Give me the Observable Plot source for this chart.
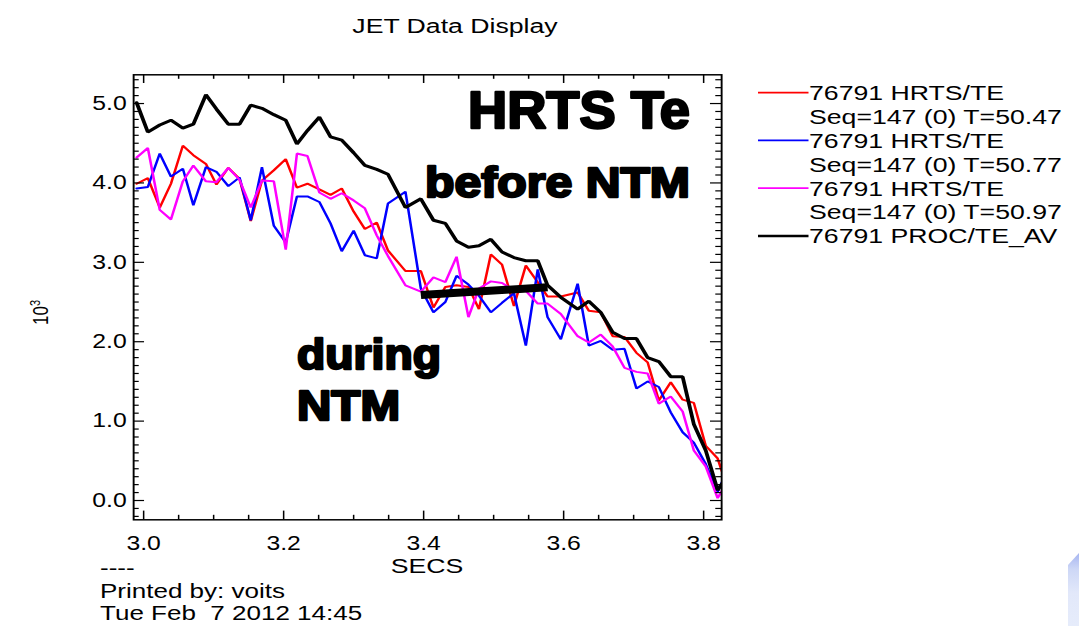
<!DOCTYPE html>
<html>
<head>
<meta charset="utf-8">
<script src="https://cdn.jsdelivr.net/npm/d3@7"></script>
<script src="https://cdn.jsdelivr.net/npm/@observablehq/plot@0.6"></script>
<style>
  html, body { margin: 0; padding: 0; background: #fff; }
  #page { position: relative; width: 1079px; height: 626px; overflow: hidden; background: #fff; }
  #chart { position: absolute; left: 0; top: 0; width: 850px; height: 626px; transform-origin: 0 0; }
  #chart svg { position: absolute; left: 0; top: 0; }
  #notes { position: absolute; left: 0; top: 0; pointer-events: none; }
  #corner {
    position: absolute; left: 1068px; top: 553px; width: 11px; height: 73px;
    background: linear-gradient(180deg, #a6b5f1 0px, #cdd7f6 16px, #e2e8fa 40px, #e6ecfb 73px);
    clip-path: polygon(0 12px, 100% 0, 100% 100%, 0 100%);
  }
</style>
</head>
<body>
<div id="page">
  <div id="chart"></div>
  <div id="corner"></div>
</div>
<script>
// HRTS radial channels (axis labelled SECS)
const secs = [
  2.990, 3.006, 3.023, 3.039, 3.056, 3.071, 3.089, 3.104, 3.121, 3.137,
  3.153, 3.169, 3.186, 3.203, 3.219, 3.234, 3.251, 3.267, 3.283, 3.300,
  3.316, 3.333, 3.349, 3.374, 3.396, 3.414, 3.431, 3.447, 3.464, 3.479,
  3.496, 3.512, 3.529, 3.546, 3.563, 3.577, 3.596, 3.620, 3.636, 3.653,
  3.670, 3.687, 3.704, 3.720, 3.736, 3.753, 3.770, 3.786, 3.803, 3.820,
  3.826
];

// Te in units of 10^3 eV
const teT5047 = [
  3.99, 4.06, 3.69, 3.99, 4.47, 4.35, 4.24, 3.98, 4.19, 4.05,
  3.52, 4.03, 4.16, 4.30, 3.94, 3.99, 3.92, 3.85, 3.93, 3.64,
  3.42, 3.50, 3.15, 2.89, 2.89, 2.43, 2.69, 2.71, 2.69, 2.41,
  3.10, 2.97, 2.45, 2.96, 2.75, 2.57, 2.57, 2.62, 2.39, 2.37,
  2.07, 2.06, 1.86, 1.74, 1.26, 1.49, 1.27, 1.23, 0.69, 0.53,
  0.37
];
const teT5077 = [
  3.93, 3.95, 4.37, 4.08, 4.18, 3.72, 4.20, 4.14, 3.96, 4.07,
  3.53, 4.20, 3.46, 3.25, 3.83, 3.83, 3.76, 3.49, 3.14, 3.40,
  3.09, 3.05, 3.74, 3.89, 2.67, 2.37, 2.50, 2.83, 2.72, 2.58,
  2.37, 2.49, 2.61, 1.95, 2.91, 2.31, 2.03, 2.73, 1.95, 2.01,
  1.90, 1.91, 1.41, 1.50, 1.43, 1.11, 0.86, 0.73, 0.46, 0.11,
  0.23
];
const teT5097 = [
  4.32, 4.44, 3.66, 3.54, 4.02, 4.22, 4.02, 4.01, 4.19, 4.04,
  3.69, 4.03, 4.02, 3.16, 4.37, 4.34, 3.88, 3.80, 3.87, 3.78,
  3.68, 3.34, 3.08, 2.71, 2.63, 2.81, 2.75, 3.07, 2.31, 2.67,
  2.76, 2.74, 2.65, 2.64, 2.48, 2.48, 2.35, 2.07, 1.99, 2.09,
  1.94, 1.67, 1.62, 1.60, 1.22, 1.31, 1.12, 0.63, 0.43, 0.03,
  0.12
];
const teAvg = [
  5.01, 4.64, 4.73, 4.79, 4.69, 4.74, 5.11, 4.93, 4.74, 4.74,
  4.98, 4.94, 4.86, 4.79, 4.49, 4.66, 4.83, 4.58, 4.54, 4.38,
  4.22, 4.17, 4.11, 3.69, 3.80, 3.53, 3.49, 3.27, 3.19, 3.21,
  3.29, 3.13, 3.06, 3.02, 3.02, 2.71, 2.56, 2.41, 2.51, 2.37,
  2.12, 2.04, 2.04, 1.80, 1.75, 1.56, 1.56, 0.96, 0.63, 0.13,
  0.21
];

// Te plateau during the NTM
const ntmSecs = [3.396, 3.577];
const ntmTe = [2.588, 2.686];

// Legend
const seriesSignal = ["76791 HRTS/TE", "76791 HRTS/TE", "76791 HRTS/TE", "76791 PROC/TE_AV"];
const seriesSeq = ["Seq=147 (0) T=50.47", "Seq=147 (0) T=50.77", "Seq=147 (0) T=50.97", null];
const seriesColor = ["#ff0000", "#0000ff", "#ff00ff", "#000000"];
const seriesValues = [teT5047, teT5077, teT5097, teAvg];

// Axis ticks
const xMajor = [3.0, 3.2, 3.4, 3.6, 3.8];
const yMajor = [0, 1, 2, 3, 4, 5];

const titleText = "JET Data Display";
const xLabel = "SECS";
const footer = ["----", "Printed by: voits", "Tue Feb  7 2012 14:45"];

// ---------------------------------------------------------------------------
const FONT = "'Liberation Sans', Arial, Helvetica, sans-serif";
const W = 850, H = 626;
const sx = 1079 / W;                       // the whole display is widened horizontally
document.getElementById("chart").style.transform = `scaleX(${sx})`;

const frame = {left: 133 / sx, right: 721 / sx, top: 74.3, bottom: 519.3};
const fw = frame.right - frame.left, fh = frame.bottom - frame.top;

const near = (a, b) => Math.abs(a - b) < 1e-6;
const xMinor = d3.range(3.0, 3.8001, 0.05).filter(v => !xMajor.some(m => near(m, v)));
const yMinor = d3.range(-0.2, 5.3501, 0.1).filter(v => !yMajor.some(m => near(m, v)));

const MAJ = 8.7, MIN = 4.5;
const ticksX = (vals, len) => [
  Plot.tickX(vals, {x: d => d, insetTop: fh - len, stroke: "#000", strokeWidth: 1.2}),
  Plot.tickX(vals, {x: d => d, insetBottom: fh - len, stroke: "#000", strokeWidth: 1.2})
];
const ticksY = (vals, len) => [
  Plot.tickY(vals, {y: d => d, insetRight: fw - len, stroke: "#000", strokeWidth: 1.2}),
  Plot.tickY(vals, {y: d => d, insetLeft: fw - len, stroke: "#000", strokeWidth: 1.2})
];

const rows = vals => secs.map((t, i) => ({t, te: vals[i]}));
const ntmRows = ntmSecs.map((t, i) => ({t, te: ntmTe[i]}));

const chart = Plot.plot({
  width: W,
  height: H,
  marginLeft: frame.left,
  marginRight: W - frame.right,
  marginTop: frame.top,
  marginBottom: H - frame.bottom,
  x: {domain: [2.9857, 3.8257], label: null},
  y: {domain: [-0.243, 5.362], label: null},
  style: {fontFamily: FONT, color: "#000", background: "transparent", overflow: "visible"},
  marks: [
    ...seriesValues.map((vals, k) =>
      Plot.line(rows(vals), {
        x: "t", y: "te", stroke: seriesColor[k],
        strokeWidth: k === 3 ? 3 : 2, clip: true, strokeLinejoin: "miter"
      })
    ),
    Plot.line(ntmRows, {x: "t", y: "te", stroke: "#000", strokeWidth: 8, strokeLinecap: "butt"}),
    ...ticksX(xMajor, MAJ), ...ticksX(xMinor, MIN),
    ...ticksY(yMajor, MAJ), ...ticksY(yMinor, MIN),
    Plot.frame({stroke: "#000", strokeWidth: 1.5}),
    Plot.axisX({ticks: xMajor, tickSize: 0, tickPadding: 16, tickFormat: d3.format(".1f"),
                fontSize: 19.5, label: null}),
    Plot.axisY({ticks: yMajor, tickSize: 0, tickPadding: 5.5, tickFormat: d3.format(".1f"),
                fontSize: 19.5, label: null})
  ]
});
document.getElementById("chart").append(chart);

// Title, axis captions, legend and print stamp (same widened coordinate system)
const deco = d3.create("svg")
  .attr("width", W).attr("height", H)
  .style("font-family", FONT).style("overflow", "visible");

deco.append("text")
  .attr("x", 455 / sx).attr("y", 33).attr("text-anchor", "middle")
  .attr("font-size", 21).text(titleText);

const ylab = deco.append("text")
  .attr("transform", `translate(${48 / sx},325) rotate(-90)`)
  .attr("font-size", 17);
ylab.append("tspan").text("10");
ylab.append("tspan").attr("dy", -6.5).attr("font-size", 11).text("3");

deco.append("text")
  .attr("x", (frame.left + frame.right) / 2).attr("y", 573).attr("text-anchor", "middle")
  .attr("font-size", 21).text(xLabel);

footer.forEach((line, i) => {
  deco.append("text")
    .attr("x", 100 / sx).attr("y", 575 + i * 22.6)
    .attr("font-size", 20.5).style("white-space", "pre")
    .text(line);
});

const legendRows = [];
seriesSignal.forEach((sig, k) => {
  legendRows.push({text: sig, color: seriesColor[k]});
  if (seriesSeq[k]) legendRows.push({text: seriesSeq[k], color: null});
});
legendRows.forEach((r, i) => {
  const base = 100 + i * 23.9;
  if (r.color) {
    deco.append("line")
      .attr("x1", 758 / sx).attr("x2", 808.5 / sx)
      .attr("y1", base - 7.4).attr("y2", base - 7.4)
      .attr("stroke", r.color).attr("stroke-width", r.color === "#000000" ? 2.4 : 1.8);
  }
  deco.append("text")
    .attr("x", 809 / sx).attr("y", base)
    .attr("font-size", 21).text(r.text);
});
document.getElementById("chart").append(deco.node());

// Bold call-outs written over the display
const callouts = [
  {text: "HRTS Te", x: 468, y: 128.3, w: 222, size: 51},
  {text: "before NTM", x: 425, y: 197, w: 265, size: 42},
  {text: "during", x: 297, y: 369, w: 144, size: 42.5},
  {text: "NTM", x: 297, y: 420, w: 103, size: 42}
];
const notes = d3.select("#page").append("svg")
  .attr("id", "notes").attr("width", 1079).attr("height", 626)
  .style("font-family", FONT).style("font-weight", "bold");
notes.selectAll("text").data(callouts).join("text")
  .attr("x", d => d.x).attr("y", d => d.y)
  .attr("font-size", d => d.size)
  .attr("textLength", d => d.w).attr("lengthAdjust", "spacingAndGlyphs")
  .attr("fill", "#000").attr("stroke", "#000").attr("stroke-width", 2.4)
  .attr("stroke-linejoin", "round")
  .text(d => d.text);
</script>
</body>
</html>
